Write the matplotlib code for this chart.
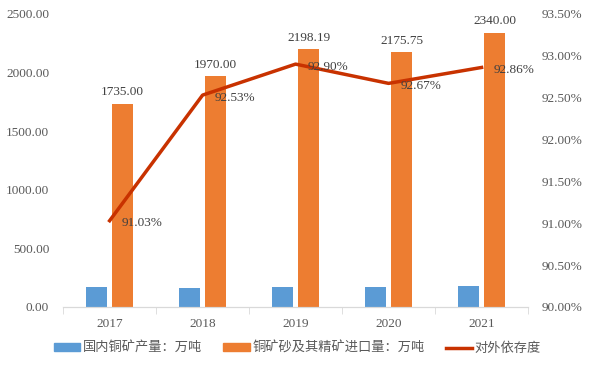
import numpy as np
import matplotlib.pyplot as plt
from matplotlib.lines import Line2D
from matplotlib.patches import Patch

# 数据
years = ['2017', '2018', '2019', '2020', '2021']
domestic = [171, 159, 168, 172, 180]
imports = [1735.00, 1970.00, 2198.19, 2175.75, 2340.00]
dependence = [91.03, 92.53, 92.90, 92.67, 92.86]

c_blue = '#5B9BD5'
c_orange = '#ED7D31'
c_line = '#C83200'
c_text = '#595959'
serif = ['Liberation Serif', 'DejaVu Serif']
cjk = ['Noto Sans CJK SC', 'DejaVu Sans']

fig = plt.figure(figsize=(5.9, 3.65), dpi=100)
ax = fig.add_axes([0.107, 0.159, 0.788, 0.803])
ax2 = ax.twinx()

x = np.arange(len(years))
w = 0.225
ax.bar(x - 0.14, domestic, w, color=c_blue, zorder=2)
ax.bar(x + 0.14, imports, w, color=c_orange, zorder=2)
for xi, v in zip(x, imports):
    ax.text(xi + 0.14, v + 45, f'{v:.2f}', ha='center', va='bottom',
            fontsize=9.5, family=serif, color='#404040')

ax.set_xlim(-0.5, len(years) - 0.5)
ax.set_ylim(0, 2500)
ax.set_yticks(np.arange(0, 2501, 500))
ax.set_yticklabels([f'{v:.2f}' for v in np.arange(0, 2501, 500)])
ax.set_xticks(x)
ax.set_xticklabels(years)
ax.set_xticks(np.arange(-0.5, len(years)), minor=True)
ax.tick_params(axis='x', which='major', length=0, pad=8)
ax.tick_params(axis='x', which='minor', length=5, color='#D9D9D9')
ax.tick_params(axis='y', length=0, pad=10)

ax2.plot(x, dependence, color=c_line, lw=2.5, zorder=3)
for xi, v in zip(x, dependence):
    ax2.text(xi + 0.13, v - 0.03, f'{v:.2f}%', ha='left', va='center',
             fontsize=9.5, family=serif, color='#404040')
ax2.set_ylim(90, 93.5)
ax2.set_yticks(np.arange(90, 93.51, 0.5))
ax2.set_yticklabels([f'{v:.2f}%' for v in np.arange(90, 93.51, 0.5)])
ax2.tick_params(axis='y', length=0, pad=10)

for a in (ax, ax2):
    for s in ('top', 'left', 'right'):
        a.spines[s].set_visible(False)
    a.spines['bottom'].set_color('#D9D9D9')
    for lab in a.get_xticklabels() + a.get_yticklabels():
        lab.set_family(serif)
        lab.set_fontsize(9.5)
        lab.set_color(c_text)

handles = [Patch(color=c_blue), Patch(color=c_orange),
           Line2D([0], [0], color=c_line, lw=2.5)]
labels = ['国内铜矿产量：万吨', '铜矿砂及其精矿进口量：万吨', '对外依存度']
leg = fig.legend(handles, labels, loc='lower center', bbox_to_anchor=(0.504, -0.005),
                 ncol=3, frameon=False, handlelength=2.0, handleheight=0.6,
                 columnspacing=1.6, handletextpad=0.2,
                 prop={'family': cjk, 'size': 9.5})
for t in leg.get_texts():
    t.set_color(c_text)

fig.savefig('out.png', dpi=100)
